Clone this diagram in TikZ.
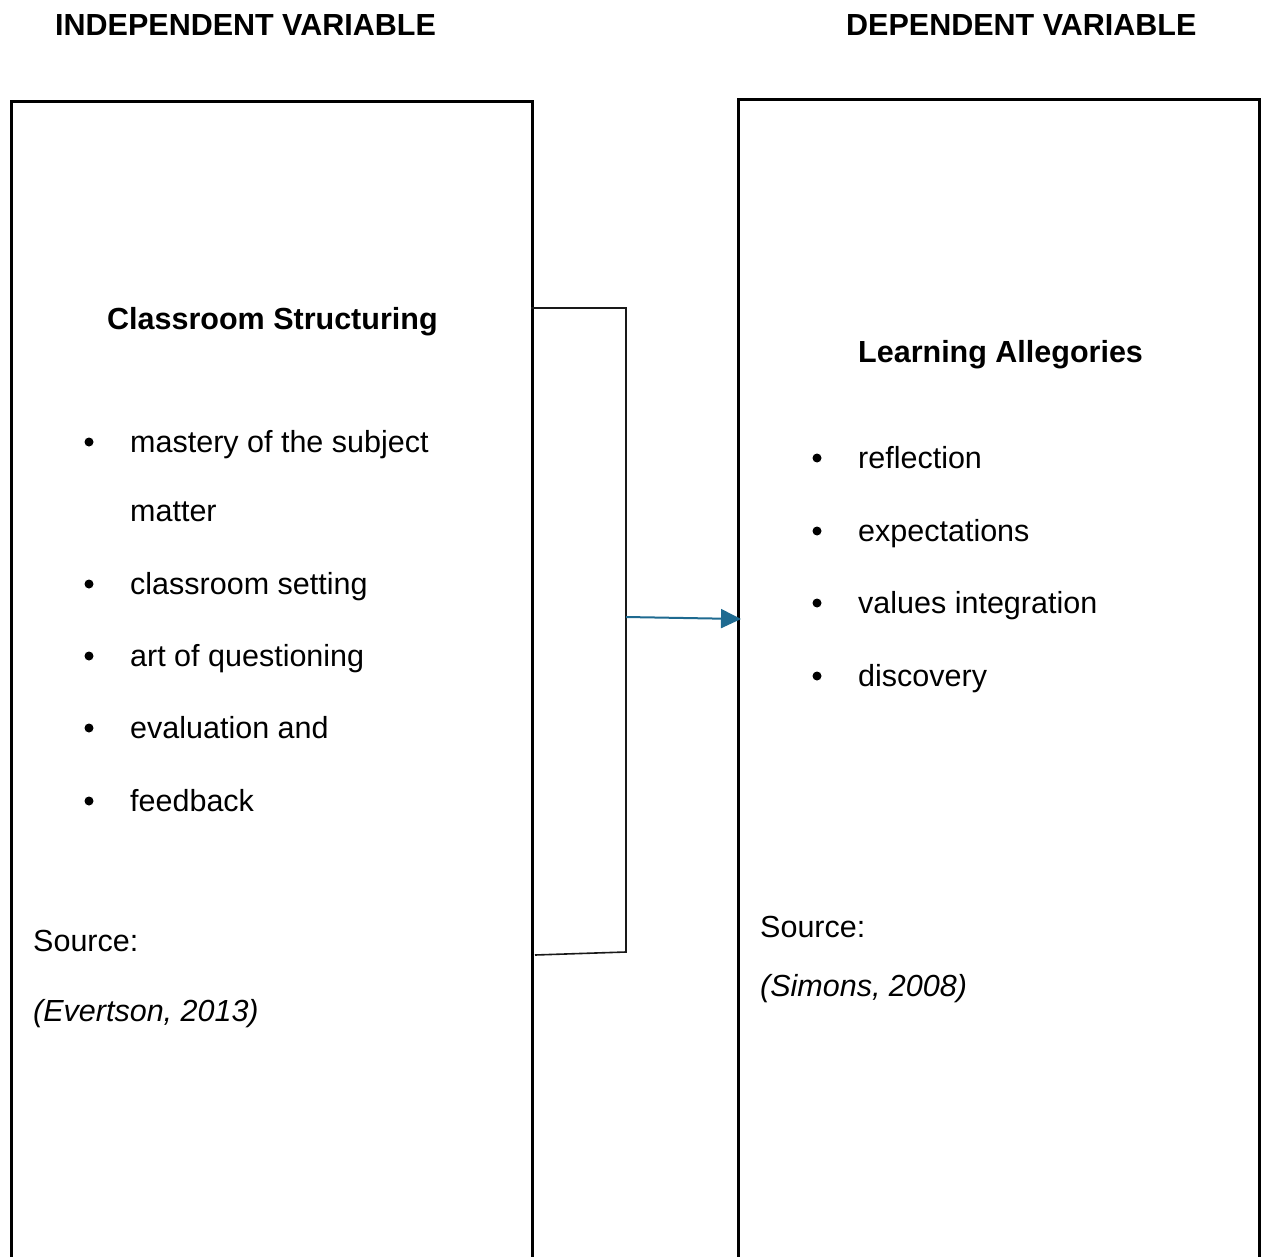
\documentclass[tikz,border=0pt]{standalone}
\usepackage{fontspec}
\setmainfont{Liberation Sans}
\usetikzlibrary{arrows.meta}
\begin{document}
\begin{tikzpicture}[x=1pt,y=-1pt,
  txt/.style={anchor=base west,inner sep=0pt,font=\fontsize{30.5}{36}\selectfont},
  head/.style={txt,font=\fontsize{30.5}{36}\selectfont\bfseries},
  frame/.style={draw=black,line width=3pt,fill=none},
  link/.style={draw=black!90,line width=1.6pt},
  dot/.style={circle,fill=black,inner sep=0pt,minimum size=9pt},
  flow/.style={draw=arrowblue,line width=2pt,-{Triangle[length=20pt,width=19pt]}}]
\definecolor{arrowblue}{HTML}{1E6A90}
\useasboundingbox (0,0) rectangle (1261,1257);
\clip (0,0) rectangle (1261,1257);

% column headings
\node[head] (ivhead) at (55,36) {INDEPENDENT VARIABLE};
\node[head] (dvhead) at (846,36) {DEPENDENT VARIABLE};

% the two variable boxes (open past the lower edge)
\draw[frame] (11,1300) -- (11,102) -- (532,102) -- (532,1300);
\draw[frame] (738,1300) -- (738,100) -- (1259,100) -- (1259,1300);

% left box contents
\node[head] (ivtitle) at (107,330) {Classroom Structuring};
\foreach \y/\t/\b in {452/mastery of the subject/1,521/matter/0,594/classroom setting/1,666/art of questioning/1,738/evaluation and/1,811/feedback/1}{
  \node[txt] at (130,\y) {\t};
  \ifnum\b=1 \node[dot] at (89,\y-10) {};\fi
}
\node[txt] (ivsrc) at (33,951) {Source:};
\node[txt] (ivref) at (33,1021) {\itshape (Evertson, 2013)};

% right box contents
\node[head] (dvtitle) at (858,362) {Learning Allegories};
\foreach \y/\t in {468/reflection,541/expectations,613/values integration,686/discovery}{
  \node[txt] at (858,\y) {\t};
  \node[dot] at (817,\y-10) {};
}
\node[txt] (dvsrc) at (760,937) {Source:};
\node[txt] (dvref) at (760,996) {\itshape (Simons, 2008)};

% bracket joining the independent variables
\coordinate (btop) at (531,308);
\coordinate (bbot) at (535,955);
\coordinate (ctop) at (626,308);
\coordinate (cbot) at (626,952);
\coordinate (cmid) at (626,617);
\coordinate (dvin) at (741,619);
\draw[link] (btop) -- (ctop) -- (cbot) -- (bbot);
\draw[flow] (cmid) -- (dvin);
\end{tikzpicture}
\end{document}
